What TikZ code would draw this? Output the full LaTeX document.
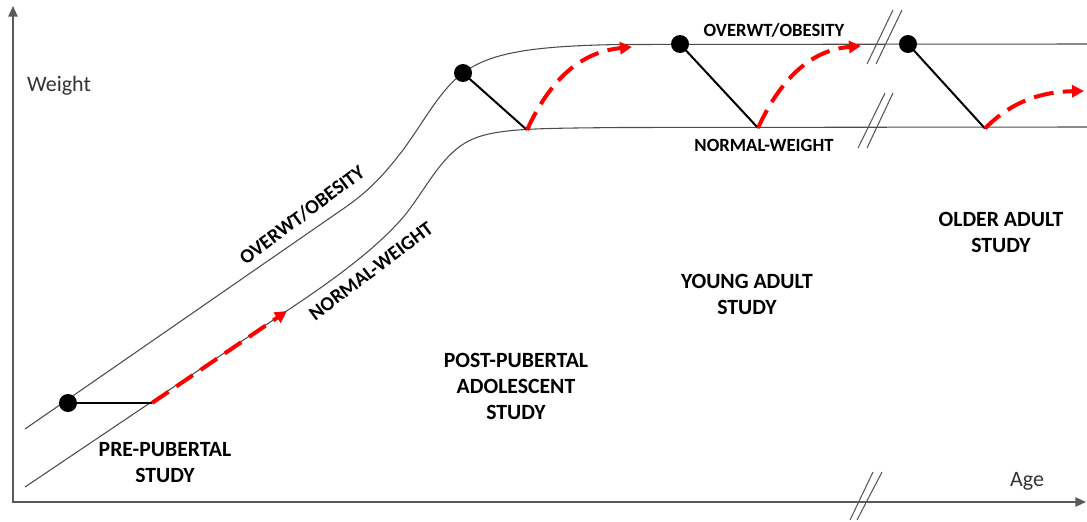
\documentclass[tikz,border=0pt]{standalone}
\usepackage{fontspec}
\setmainfont{Carlito}
\usetikzlibrary{arrows.meta}
\begin{document}
\begin{tikzpicture}[x=0.75pt,y=-0.75pt,
  curve/.style={draw=black!70, line width=0.8pt},
  axisline/.style={draw=black!65, line width=1.2pt, {Triangle[length=8pt,width=7pt]}-{Triangle[length=8pt,width=7pt]}},
  dot/.style={circle, fill=black, inner sep=0pt, minimum size=13.5pt},
  pt/.style={inner sep=0pt, minimum size=0pt},
  link/.style={draw=black, line width=1.5pt},
  redarrow/.style={draw=red, line width=3pt, dash pattern=on 15pt off 7pt, -{Triangle[length=9pt,width=9pt]}},
  brk/.style={draw=black!65, line width=0.8pt},
  lab/.style={font=\fontsize{16.3}{19.5}\selectfont\bfseries, align=center},
  curvelab/.style={font=\fontsize{14}{17}\selectfont\bfseries},
  slantlab/.style={font=\fontsize{15}{18}\selectfont\bfseries, rotate=37},
  axlab/.style={font=\fontsize{16.5}{19}\selectfont, text=black!80}
]
\useasboundingbox (0,0) rectangle (1087,521);

% axes
\coordinate (ytop) at (13,6);
\coordinate (O) at (13,502);
\coordinate (xend) at (1086,502);
\draw[axisline] (ytop) -- (O) -- (xend);

% curves
\draw[curve] (25,429) -- (340,211)
  .. controls (365,194) and (380,180) .. (403,150)
  .. controls (425,120) and (440,90) .. (463,73)
  .. controls (490,53) and (530,46) .. (620,44.5)
  -- (1087,44);
\draw[curve] (25,487) -- (300,302)
  .. controls (340,275) and (380,245) .. (405,215)
  .. controls (425,190) and (440,158) .. (465,143)
  .. controls (490,128) and (530,128.5) .. (620,127.5)
  -- (1087,127);

% break marks
\draw[brk] (867,64) -- (893,10);
\draw[brk] (876,64) -- (902,10);
\draw[brk] (858,148) -- (885,93);
\draw[brk] (867,148) -- (893,93);
\draw[brk] (850,520) -- (873,472);
\draw[brk] (857,520) -- (882,472);

% connection points
\node[pt] (e1) at (152,403) {};
\node[pt] (e2) at (527,130) {};
\node[pt] (e3) at (758,128) {};
\node[pt] (e4) at (985,128.5) {};
\coordinate (t1) at (287,311);
\coordinate (t2) at (632,47);
\coordinate (t3) at (861,46);
\coordinate (t4) at (1084,91);

% black links
\node[dot] (d1) at (68,403) {};
\node[dot] (d2) at (463,73) {};
\node[dot] (d3) at (680,44) {};
\node[dot] (d4) at (908,44) {};
\draw[link] (d1.center) -- (e1.center);
\draw[link] (d2.center) -- (e2.center);
\draw[link] (d3.center) -- (e3.center);
\draw[link] (d4.center) -- (e4.center);

% red arrows
\draw[redarrow] (e1.center) -- (t1);
\draw[redarrow] (e2.center) .. controls (550,80) and (580,52) .. (t2);
\draw[redarrow] (e3.center) .. controls (780,80) and (810,50) .. (t3);
\draw[redarrow] (e4.center) .. controls (1005,108) and (1032,92) .. (t4);

% labels
\node[axlab] (wlab) at (59,86) {Weight};
\node[axlab] (alab) at (1027,481) {Age};
\node[curvelab] (ob1) at (774,30) {OVERWT/OBESITY};
\node[curvelab] (nw1) at (764,145) {NORMAL-WEIGHT};
\node[slantlab] (ob2) at (302,215) {OVERWT/OBESITY};
\node[slantlab] (nw2) at (371,271) {NORMAL-WEIGHT};
\node[lab] (s1) at (165,463) {PRE-PUBERTAL\\STUDY};
\node[lab] (s2) at (516,386) {POST-PUBERTAL\\ADOLESCENT\\STUDY};
\node[lab] (s3) at (747,294) {YOUNG ADULT\\STUDY};
\node[lab] (s4) at (1001,232) {OLDER ADULT\\STUDY};
\end{tikzpicture}
\end{document}
